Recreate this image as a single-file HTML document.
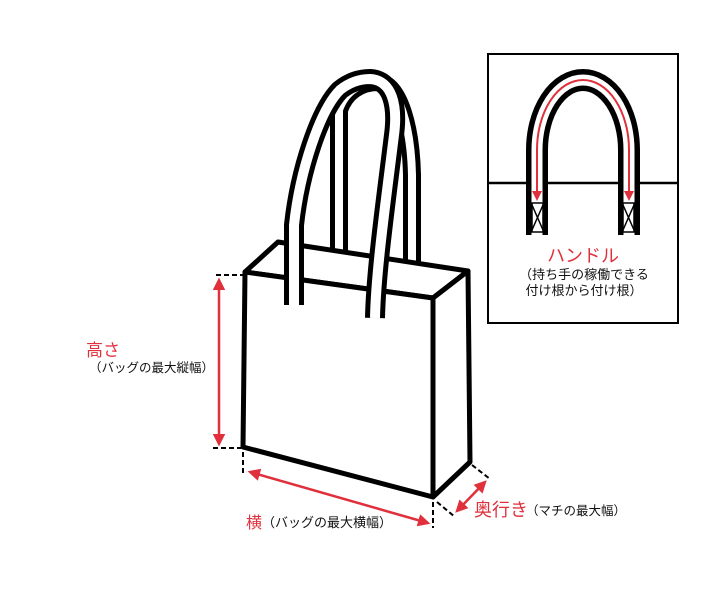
<!DOCTYPE html>
<html><head><meta charset="utf-8"><style>
body{margin:0;background:#fff;width:713px;height:602px;overflow:hidden}
svg{display:block}
text{font-family:"Liberation Sans","Noto Sans CJK JP",sans-serif}
</style></head><body>
<svg width="713" height="602" viewBox="0 0 713 602" xmlns="http://www.w3.org/2000/svg">
<defs>
<marker id="ah" viewBox="0 0 10 10" refX="8" refY="5" markerWidth="5" markerHeight="5" orient="auto-start-reverse"><path d="M0,0 L10,5 L0,10 z" fill="#e0303c"/></marker>
</defs>
<!-- back handle -->
<path d="M339,252 L339,110 C345,92 360,82 378,82 C400,84 411,130 412,175 L412,262" fill="none" stroke="#000" stroke-width="18" stroke-linejoin="round"/>
<path d="M339,252 L339,110 C345,92 360,82 378,82 C400,84 411,130 412,175 L412,262" fill="none" stroke="#fff" stroke-width="8" stroke-linejoin="round"/>
<!-- bag -->
<g stroke="#000" stroke-width="5" stroke-linejoin="round" fill="#fff">
<polygon points="245,272 278,242 468,271 433,298"/>
<polygon points="433,298 468,271 470,462 433,497"/>
<polygon points="245,272 433,298 433,497 243,447"/>
</g>
<!-- front handle -->
<path d="M294,305 L294,225 C300,170 320,110 340,90 C350,82 360,79 370,79 C392,80 398,105 394,135 C386,200 376,270 375,318" fill="none" stroke="#000" stroke-width="20" stroke-linejoin="round"/>
<path d="M294,305 L294,225 C300,170 320,110 340,90 C350,82 360,79 370,79 C392,80 398,105 394,135 C386,200 376,270 375,318" fill="none" stroke="#fff" stroke-width="10" stroke-linejoin="round"/>
<!-- dims -->
<g stroke="#000" stroke-width="2" stroke-dasharray="5,3" fill="none">
<line x1="216" y1="275" x2="243" y2="275"/>
<line x1="213" y1="448" x2="241" y2="448"/>
<line x1="243" y1="452" x2="243" y2="476"/>
<line x1="433" y1="502" x2="433" y2="528"/>
<line x1="472" y1="465" x2="490" y2="479"/>
<line x1="437" y1="502" x2="455" y2="517"/>
</g>
<g stroke="#e0303c" stroke-width="2.5" fill="none">
<line x1="219" y1="280" x2="219" y2="444" marker-start="url(#ah)" marker-end="url(#ah)"/>
<line x1="250" y1="472" x2="428" y2="523" marker-start="url(#ah)" marker-end="url(#ah)"/>
<line x1="457" y1="511" x2="485" y2="482" marker-start="url(#ah)" marker-end="url(#ah)"/>
</g>
<text x="86" y="356" font-size="17" fill="#e0303c">高さ</text>
<text x="89" y="372" font-size="12.5" fill="#111">（バッグの最大縦幅）</text>
<text x="246" y="528" font-size="16" fill="#e0303c">横</text>
<text x="262" y="527" font-size="13" fill="#111">（バッグの最大横幅）</text>
<text x="474" y="516" font-size="18" fill="#e0303c">奥行き</text>
<text x="526" y="515" font-size="12.5" fill="#111">（マチの最大幅）</text>
<!-- inset -->
<rect x="488" y="54" width="190" height="269" fill="#fff" stroke="#000" stroke-width="2"/>
<line x1="488" y1="183" x2="678" y2="183" stroke="#000" stroke-width="2.5"/>
<path d="M537,235 L537,150 A46,70 0 0 1 629,150 L629,235" fill="none" stroke="#000" stroke-width="22"/>
<path d="M537,235 L537,150 A46,70 0 0 1 629,150 L629,235" fill="none" stroke="#fff" stroke-width="11"/>
<g stroke="#000" stroke-width="1.5" fill="none">
<rect x="532" y="203" width="11" height="29"/><line x1="532" y1="205" x2="543" y2="230"/><line x1="543" y1="205" x2="532" y2="230"/>
<rect x="623" y="203" width="11" height="29"/><line x1="623" y1="205" x2="634" y2="230"/><line x1="634" y1="205" x2="623" y2="230"/>
</g>
<path d="M537,199 L537,150 A46,70 0 0 1 629,150 L629,199" fill="none" stroke="#e0303c" stroke-width="2" marker-start="url(#ah)" marker-end="url(#ah)"/>
<text x="583" y="262" font-size="18" fill="#e0303c" text-anchor="middle">ハンドル</text>
<text x="584" y="279" font-size="13" fill="#111" text-anchor="middle">（持ち手の稼働できる</text>
<text x="584" y="295" font-size="13" fill="#111" text-anchor="middle">付け根から付け根）</text>
</svg>
</body></html>
